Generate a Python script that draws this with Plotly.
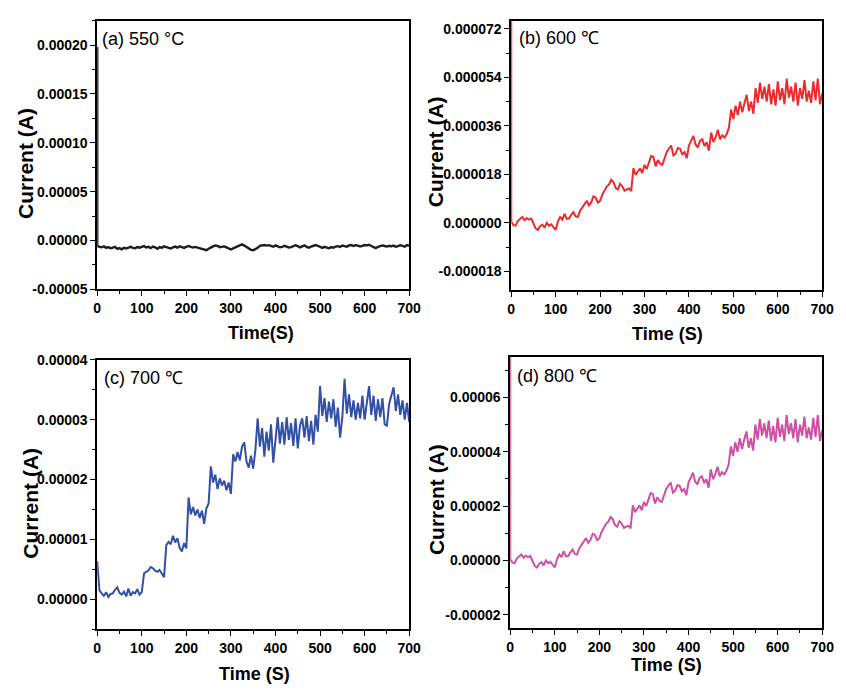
import numpy as np
import plotly.graph_objects as go

# ---------------- data (current in micro-amperes, sampled every 5 s) ----------------
time_step_s = 5

current_550_uA = [
    -5.5, -6.5, -7.0, -6.0, -7.5, -6.8, -8.0, -7.2, -6.5, -8.5,
    -7.8, -9.0, -7.5, -8.2, -7.0, -6.4, -7.6, -8.0, -6.8, -7.4,
    -6.6, -5.8, -7.2, -6.5, -7.8, -6.2, -7.0, -8.4, -6.8, -7.5,
    -5.9, -6.8, -7.6, -8.2, -7.0, -6.2, -7.3, -6.0, -6.8, -7.6,
    -6.4, -5.6, -6.5, -7.2, -6.6, -7.4, -8.0, -8.8, -9.5, -10.0,
    -8.5, -7.0, -6.0, -5.0, -5.5, -6.8, -6.2, -6.0, -7.0, -8.4,
    -9.2, -8.0, -7.0, -5.5, -4.5, -4.0, -5.2, -6.8, -8.0, -9.6,
    -10.0, -8.8, -7.5, -5.5, -5.0, -4.6, -5.2, -4.8, -5.6, -6.4,
    -5.0, -6.0, -7.0, -6.6, -5.4, -6.2, -7.2, -6.8, -5.6, -4.8,
    -5.8, -7.0, -6.0, -5.0, -6.6, -7.4, -6.2, -5.2, -4.6, -5.4,
    -6.8, -7.6, -6.4, -7.2, -8.0, -6.8, -7.4, -6.2, -5.8, -6.6,
    -5.2, -5.8, -6.4, -5.0, -4.6, -5.6, -4.8, -5.2, -6.2, -5.4,
    -4.6, -5.0, -4.4, -5.6, -6.6, -7.8, -6.4, -5.8, -5.0, -5.6,
    -6.2, -5.4, -6.0, -5.2, -6.4, -5.8, -4.8, -5.6, -6.4, -4.6,
    -5.2,
]

current_600_uA = [
    0.4, -0.8, -1.0, 0.8, 1.5, 2.2, 1.0, 1.8, 1.2, 1.6,
    -0.2, -2.0, -2.6, -1.2, -0.6, -1.8, 0.0, -1.0, -0.5, -1.6,
    -2.6, 0.5, 2.2, 1.2, 3.4, 1.5, 1.6, 3.0, 4.0, 2.4,
    2.2, 4.5, 5.8, 6.8, 8.2, 6.5, 7.6, 9.8, 9.4, 7.5,
    8.2, 10.5, 11.8, 13.5, 14.2, 16.0, 15.2, 13.0, 12.4, 14.5,
    13.6, 12.0, 12.4, 12.8, 11.8, 20.3, 17.8, 19.0, 20.3, 18.5,
    21.5, 20.0, 22.7, 24.8, 24.5, 21.0, 23.3, 22.0, 21.5, 24.0,
    26.3, 27.5, 28.7, 25.0, 25.7, 27.8, 27.5, 25.5, 26.3, 24.0,
    28.7, 30.5, 32.3, 29.0, 28.0, 30.5, 31.0, 28.5, 29.9, 26.8,
    33.5, 30.0, 31.7, 34.5, 31.0, 32.5, 31.7, 33.0, 35.3, 42.0,
    38.5, 43.5, 40.0, 45.0, 41.0, 44.5, 47.5, 41.5, 45.0, 40.5,
    50.0, 44.5, 52.0, 46.0, 50.5, 45.0, 51.5, 44.0, 49.5, 43.5,
    52.5, 45.5, 50.0, 44.0, 53.5, 46.5, 50.5, 45.0, 52.0, 43.5,
    50.0, 46.0, 53.0, 45.0, 49.0, 44.5, 52.5, 45.5, 53.5, 44.0,
    48.0,
]

current_700_uA = [
    6.4, 1.5, 1.0, 0.6, 1.2, 0.4, 0.9, 1.0, 1.6, 2.0,
    1.1, 0.8, 1.3, 0.5, 1.8, 0.6, 1.2, 1.0, 1.7, 0.8,
    1.2, 4.3, 4.6, 4.8, 5.4, 5.2, 4.8, 4.6, 4.9, 4.2,
    3.7, 9.0, 9.6, 9.2, 10.6, 9.5, 10.2, 8.6, 8.0, 9.4,
    8.5, 17.0, 14.2, 15.4, 14.0, 15.0, 13.6, 14.8, 12.6, 15.2,
    16.0, 22.2, 19.5, 20.8, 18.4, 20.2, 19.0, 19.8, 18.2, 19.5,
    17.6, 24.2, 23.0, 24.6, 23.2, 25.5, 26.2, 23.0, 22.0, 24.0,
    21.8, 25.0, 30.2, 25.5, 28.6, 23.8, 28.0, 24.8, 29.2, 22.8,
    27.0, 30.4, 26.0, 29.6, 25.8, 30.4, 26.6, 29.4, 25.6, 30.2,
    25.2, 29.0, 30.2, 27.0, 30.6, 26.4, 29.8, 25.8, 30.8, 28.0,
    35.6, 30.6, 33.6, 29.6, 33.0, 30.2, 33.4, 28.8, 32.0, 27.0,
    30.4, 36.8, 31.0, 34.2, 30.4, 33.2, 30.0, 32.8, 30.2, 34.0,
    30.0, 33.2, 35.6, 30.8, 34.0, 29.8, 33.4, 30.4, 33.6, 29.2,
    29.0, 32.6, 34.0, 35.4, 31.4, 34.2, 30.8, 33.2, 30.0, 32.8,
    29.6,
]

# panel (d) shows the same transient as panel (b)
current_800_uA = list(current_600_uA)

# value drawn at t = 0 before the trace settles (spike off the top of the panel)
start_spike_550_uA = 198.0
start_spike_600_uA = 80.0
start_spike_800_uA = 80.0

panel_labels = ["(a) 550 °C", "(b) 600 ℃", "(c) 700 ℃", "(d) 800 ℃"]
x_titles = ["Time(S)", "Time (S)", "Time (S)", "Time (S)"]
y_title = "Current (A)"
line_colors = ["#1c1c1c", "#ec2b2d", "#3150a6", "#cf4fa2"]

x_tickvals = [0, 100, 200, 300, 400, 500, 600, 700]
x_ticktext = ["0", "100", "200", "300", "400", "500", "600", "700"]

y_tickvals = [
    [-0.00005, 0.0, 0.00005, 0.00010, 0.00015, 0.00020],
    [-0.000018, 0.0, 0.000018, 0.000036, 0.000054, 0.000072],
    [0.0, 0.00001, 0.00002, 0.00003, 0.00004],
    [-0.00002, 0.0, 0.00002, 0.00004, 0.00006],
]
y_ticktext = [
    ["-0.00005", "0.00000", "0.00005", "0.00010", "0.00015", "0.00020"],
    ["-0.000018", "0.000000", "0.000018", "0.000036", "0.000054", "0.000072"],
    ["0.00000", "0.00001", "0.00002", "0.00003", "0.00004"],
    ["-0.00002", "0.00000", "0.00002", "0.00004", "0.00006"],
]
y_minor_dtick = [0.000025, 0.000009, 0.000005, 0.00001]
y_ranges = [
    [-0.00005, 0.000225],
    [-0.000025, 0.000075],
    [-0.000005, 0.00004],
    [-0.000025, 0.000075],
]

# ---------------- layout geometry (pixels in a 846 x 693 canvas) ----------------
W, H = 846, 693
boxes = [  # left, top, right, bottom
    (95, 13, 413, 288),
    (517, 13, 834, 289),
    (95, 360, 413, 636),
    (516, 357, 834, 635),
]
ytitle_pos = [(22, 159), (440, 147), (27, 507), (441, 503)]
xtitle_pos = [(262, 333), (676, 334), (255, 682), (675, 673)]
label_pos = [(98, 32), (523, 31), (100, 379), (521, 377)]
line_widths = [2.4, 2.0, 2.0, 2.0]

FONT = "Liberation Sans, Arial, sans-serif"


def series(values_uA, spike_uA=None):
    t = [i * time_step_s for i in range(len(values_uA))]
    v = list(values_uA)
    if spike_uA is not None:
        t = [0] + t
        v = [spike_uA] + v
    return np.array(t), np.array(v) * 1e-6


traces = [
    series(current_550_uA, start_spike_550_uA),
    series(current_600_uA, start_spike_600_uA),
    series(current_700_uA),
    series(current_800_uA, start_spike_800_uA),
]

fig = go.Figure()
layout = dict(
    width=W, height=H,
    margin=dict(l=0, r=0, t=0, b=0),
    paper_bgcolor="white", plot_bgcolor="white",
    showlegend=False,
    font=dict(family=FONT, color="black"),
)
annotations = []

for i, ((t, v), color) in enumerate(zip(traces, line_colors)):
    n = "" if i == 0 else str(i + 1)
    fig.add_trace(go.Scatter(
        x=t, y=v, mode="lines",
        line=dict(color=color, width=line_widths[i]),
        xaxis="x" + n, yaxis="y" + n,
    ))
    l, tp, r, b = boxes[i]
    xdom = [l / W, r / W]
    ydom = [1 - b / H, 1 - tp / H]
    common = dict(
        showline=True, linecolor="black", linewidth=1.6, mirror=True,
        ticks="outside", ticklen=5, tickwidth=1.4, tickcolor="black",
        showgrid=False, zeroline=False, layer="below traces",
        tickfont=dict(family=FONT, size=14, color="black", weight="bold"),
    )
    layout["xaxis" + n] = dict(
        common, domain=xdom, range=[0, 700], anchor="y" + n,
        tickmode="array", tickvals=x_tickvals, ticktext=x_ticktext,
        minor=dict(tick0=0, dtick=50, ticks="outside", ticklen=3,
                   tickwidth=1.2, tickcolor="black"),
    )
    layout["yaxis" + n] = dict(
        common, domain=ydom, range=y_ranges[i], anchor="x" + n,
        tickmode="array", tickvals=y_tickvals[i], ticktext=y_ticktext[i],
        minor=dict(tick0=0, dtick=y_minor_dtick[i], ticks="outside", ticklen=3,
                   tickwidth=1.2, tickcolor="black"),
    )
    ax, ay = ytitle_pos[i]
    annotations.append(dict(
        x=ax / W, y=1 - ay / H, xref="paper", yref="paper",
        text=y_title, textangle=-90, showarrow=False,
        xanchor="center", yanchor="middle",
        font=dict(family=FONT, size=21, color="black", weight="bold"),
    ))
    ax, ay = xtitle_pos[i]
    annotations.append(dict(
        x=ax / W, y=1 - ay / H, xref="paper", yref="paper",
        text=x_titles[i], showarrow=False,
        xanchor="center", yanchor="middle",
        font=dict(family=FONT, size=18, color="black", weight="bold"),
    ))
    ax, ay = label_pos[i]
    annotations.append(dict(
        x=ax / W, y=1 - ay / H, xref="paper", yref="paper",
        text=panel_labels[i], showarrow=False,
        xanchor="left", yanchor="middle",
        font=dict(family=FONT, size=18, color="black"),
    ))

layout["annotations"] = annotations
fig.update_layout(**layout)
fig.write_html("out.html")
